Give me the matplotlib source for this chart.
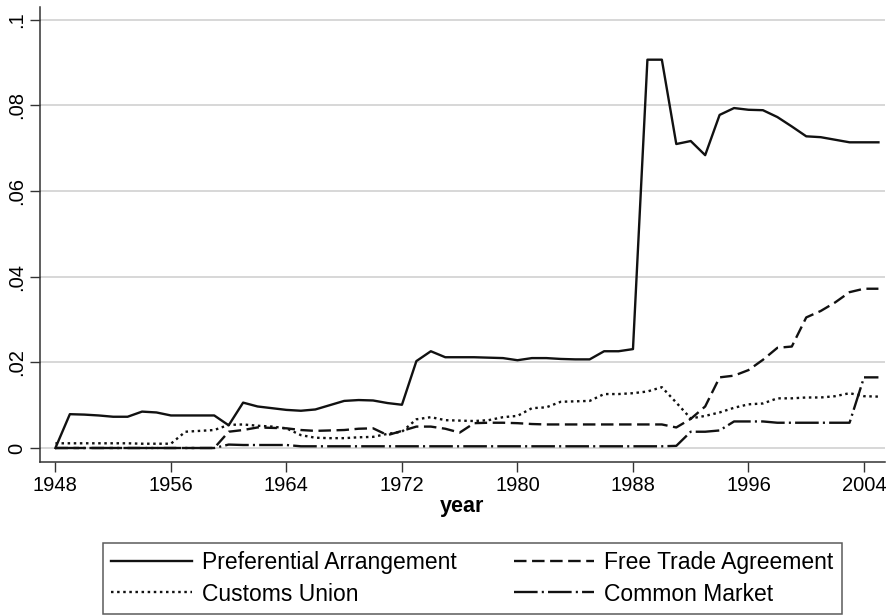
import matplotlib
matplotlib.use("Agg")
import matplotlib.pyplot as plt
import numpy as np

plt.rcParams["font.family"] = ["Liberation Sans", "DejaVu Sans"]
plt.rcParams["lines.scale_dashes"] = False

years = np.arange(1948, 2006)

preferential = [
    0.0, 0.0079, 0.0078, 0.0076, 0.0073, 0.0073, 0.0085, 0.0083, 0.0076, 0.0076,
    0.0076, 0.0076, 0.0053, 0.0106, 0.0097, 0.0093, 0.0089, 0.0087, 0.0090, 0.0100,
    0.0110, 0.0112, 0.0111, 0.0105, 0.0101, 0.0203, 0.0226, 0.0212, 0.0212, 0.0212,
    0.0211, 0.0210, 0.0205, 0.0210, 0.0210, 0.0208, 0.0207, 0.0207, 0.0226, 0.0226,
    0.0231, 0.0907, 0.0907, 0.0710, 0.0717, 0.0684, 0.0778, 0.0794, 0.0790, 0.0789,
    0.0773, 0.0751, 0.0728, 0.0726, 0.0720, 0.0714, 0.0714, 0.0714,
]
free_trade = [
    0.0, 0.0, 0.0, 0.0, 0.0, 0.0, 0.0, 0.0, 0.0, 0.0,
    0.0, 0.0, 0.0038, 0.0042, 0.0048, 0.0047, 0.0046, 0.0042, 0.0040, 0.0041,
    0.0042, 0.0045, 0.0046, 0.0030, 0.0040, 0.0050, 0.0050, 0.0045, 0.0036, 0.0058,
    0.0059, 0.0059, 0.0058, 0.0056, 0.0055, 0.0055, 0.0055, 0.0055, 0.0055, 0.0055,
    0.0055, 0.0055, 0.0055, 0.0048, 0.0068, 0.0097, 0.0165, 0.0169, 0.0182, 0.0206,
    0.0234, 0.0237, 0.0305, 0.0320, 0.0340, 0.0364, 0.0372, 0.0372,
]
customs_union = [
    0.0011, 0.0011, 0.0011, 0.0011, 0.0011, 0.0011, 0.0010, 0.0010, 0.0010, 0.0038,
    0.0040, 0.0042, 0.0054, 0.0055, 0.0052, 0.0050, 0.0046, 0.0030, 0.0024, 0.0023,
    0.0023, 0.0025, 0.0026, 0.0033, 0.0038, 0.0067, 0.0072, 0.0065, 0.0064, 0.0063,
    0.0065, 0.0072, 0.0075, 0.0093, 0.0095, 0.0108, 0.0109, 0.0110, 0.0126, 0.0126,
    0.0128, 0.0132, 0.0142, 0.0106, 0.0069, 0.0075, 0.0083, 0.0094, 0.0102, 0.0104,
    0.0116, 0.0116, 0.0118, 0.0118, 0.0121, 0.0128, 0.0121, 0.0120,
]
common_market = [
    0.0, 0.0, 0.0, 0.0, 0.0, 0.0, 0.0, 0.0, 0.0, 0.0,
    0.0, 0.0, 0.0008, 0.0007, 0.0007, 0.0007, 0.0007, 0.0004, 0.0004, 0.0004,
    0.0004, 0.0004, 0.0004, 0.0004, 0.0004, 0.0004, 0.0004, 0.0004, 0.0004, 0.0004,
    0.0004, 0.0004, 0.0004, 0.0004, 0.0004, 0.0004, 0.0004, 0.0004, 0.0004, 0.0004,
    0.0004, 0.0004, 0.0004, 0.0005, 0.0038, 0.0038, 0.0041, 0.0062, 0.0062, 0.0062,
    0.0059, 0.0059, 0.0059, 0.0059, 0.0059, 0.0059, 0.0165, 0.0165,
]

x_ticks = np.arange(1948, 2005, 8)
y_ticks = [0, 0.02, 0.04, 0.06, 0.08, 0.1]
y_labels = ["0", ".02", ".04", ".06", ".08", ".1"]

fig = plt.figure(figsize=(8.94, 6.16), dpi=100)
ax = fig.add_axes([0.0447, 0.25, 0.945, 0.7386])

lw = 1.7
col = "#111111"
l1, = ax.plot(years, preferential, color=col, lw=lw, label="Preferential Arrangement")
l2, = ax.plot(years, free_trade, color=col, lw=lw, dashes=(9, 4), label="Free Trade Agreement")
l3, = ax.plot(years, customs_union, color=col, lw=lw, dashes=(1.8, 2.6), label="Customs Union")
l4, = ax.plot(years, common_market, color=col, lw=lw, dashes=(17, 3, 1.5, 3), label="Common Market")

ax.set_xlim(1946.93, 2005.44)
ax.set_ylim(-0.00327, 0.103)
ax.set_xticks(x_ticks)
ax.set_yticks(y_ticks)
ax.set_yticklabels(y_labels, rotation=90, va="center")
ax.tick_params(axis="both", labelsize=14.5, length=7, width=1, color="#333333",
               direction="out", pad=3)
ax.yaxis.grid(True, color="#d4d4d4", lw=1.3)
ax.set_axisbelow(True)
for side in ["top", "right"]:
    ax.spines[side].set_visible(False)
for side in ["left", "bottom"]:
    ax.spines[side].set_color("#333333")
    ax.spines[side].set_linewidth(1.1)
ax.set_xlabel("year", fontsize=15.5, fontweight="bold", labelpad=1)

# column-wise fill: PA / CU in the first column, FTA / CM in the second
leg = fig.legend(
    [l1, l3, l2, l4],
    ["Preferential Arrangement", "Customs Union", "Free Trade Agreement", "Common Market"],
    ncol=2, loc="upper center", bbox_to_anchor=(0.5285, 0.1185),
    fontsize=16.5, frameon=True, fancybox=False, edgecolor="#333333",
    handlelength=3.5, handletextpad=0.45, columnspacing=2.5, labelspacing=0.37,
    borderpad=0.35, borderaxespad=0,
)
leg.get_frame().set_linewidth(1.1)

fig.savefig("out.png", dpi=100)
